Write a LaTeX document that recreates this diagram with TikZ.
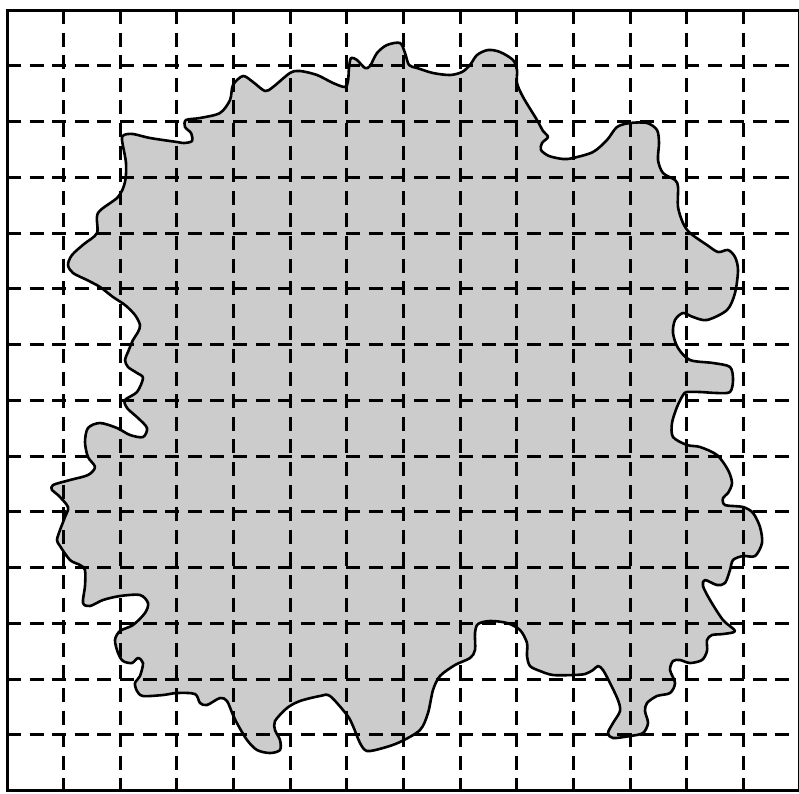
\documentclass[tikz,border=0pt]{standalone}
\begin{document}
\begin{tikzpicture}[x=1pt,y=-1pt,
  gridline/.style={line width=3pt,dash pattern=on 14pt off 8.6pt},
  borderline/.style={line width=3pt},
  blob/.style={fill=black!20,draw=black,line width=2.6pt,line join=round}]
\useasboundingbox (0,0) rectangle (799,793);
\begin{scope}
\clip (0,0) rectangle (799,793);
\path[blob] plot[smooth cycle,tension=0.5] coordinates {
(68,265) (72,255) (84,244) (97,233) (98,213) (118,197) (125,182) (126,163) (122,140) (124,135)
(133,134) (150,138) (177,142) (184,143) (192,141) (191,133) (185,127) (186,120) (200,118)
(220,113) (230,100) (233,85) (243,76) (253,82) (265,91) (273,87) (290,73) (300,71)
(317,75) (333,83) (345,87) (348,81) (349,68) (351,58) (357,60) (365,68) (370,66)
(377,53) (387,45) (400,43) (405,53) (409,65) (417,68) (433,73) (450,75) (462,72)
(470,65) (477,55) (488,50) (500,52) (513,60) (517,70) (517,83) (523,97) (537,120)
(543,131) (548,137) (542,143) (541,150) (549,156) (563,159) (573,158) (593,152) (607,140)
(617,127) (630,123) (647,123) (657,130) (659,143) (658,160) (663,173) (675,180)
(678,187) (678,207) (683,223) (690,233) (707,245) (718,252) (728,250) (735,257)
(738,270) (735,293) (727,310) (707,320) (693,317) (683,313) (675,320) (673,333)
(678,348) (690,360) (713,363) (730,367) (733,380) (730,392) (717,393) (700,392)
(687,392) (683,395) (677,407) (672,423) (673,437) (687,445) (700,447) (717,455)
(728,470) (732,483) (728,493) (723,498) (725,505) (743,507) (753,513) (760,527)
(762,543) (755,556) (743,556) (733,560) (730,570) (725,583) (717,585) (705,580)
(703,586) (710,600) (723,620) (735,631) (723,634) (712,635) (707,640) (707,651)
(702,660) (690,663) (680,660) (673,661) (670,670) (675,683) (670,693) (657,696)
(647,703) (645,711) (648,723) (643,733) (630,736) (613,738) (608,733) (613,723)
(620,711) (618,700) (610,683) (603,670) (598,666) (593,670) (585,674) (573,675)
(553,675) (540,671) (530,666) (527,656) (527,643) (520,630) (507,623) (490,621)
(478,624) (475,633) (475,650) (470,658) (455,665) (440,676) (433,690) (428,713)
(420,730) (400,742) (383,748) (367,751) (360,743) (353,726) (347,715) (330,696)
(320,696) (300,701) (287,708) (275,721) (275,730) (280,740) (280,750) (270,753)
(257,750) (247,740) (238,725) (233,715) (227,701) (220,698) (207,705) (200,703)
(195,694) (177,693) (163,695) (143,696) (137,691) (135,683) (140,676)
(143,663) (138,658) (132,663) (123,661) (118,653) (115,640) (120,631) (133,625)
(145,613) (148,603) (140,595) (120,596) (103,600) (90,606) (83,603) (85,586)
(85,570) (80,565) (70,560) (60,546) (57,540) (60,530) (65,517) (68,507) (58,495)
(52,490) (53,485) (70,480) (88,475) (95,467) (88,457) (85,442) (88,428) (100,423)
(117,428) (130,435) (143,437) (147,428) (138,418) (127,408) (125,400) (137,392)
(143,378) (137,373) (128,367) (125,360) (128,352) (133,340) (138,332) (140,325)
(135,315) (125,305) (113,297) (100,287) (87,280) (73,273)
};
\foreach \k in {1,...,13} {
  \draw[gridline] ({7+56.65*\k},10) -- ({7+56.65*\k},790.5);
  \draw[gridline] (7,{10+55.75*\k}) -- (799.5,{10+55.75*\k});
}
\draw[borderline] (7,10) rectangle (799.3,790.5);
\end{scope}
\end{tikzpicture}
\end{document}
